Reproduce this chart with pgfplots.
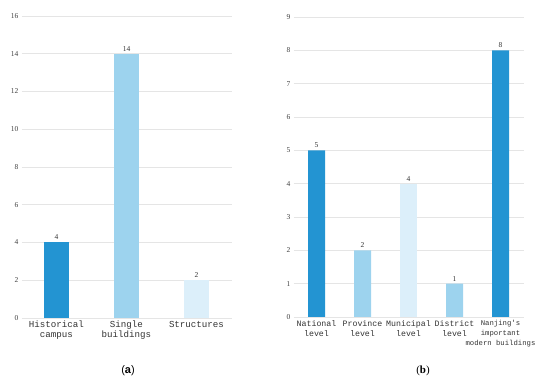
\documentclass[border=0pt]{standalone}
\usepackage{pgfplots}
\pgfplotsset{compat=1.18}
\usepackage{fontspec}
\setmainfont{Liberation Serif}
\setmonofont{Liberation Mono}
\setsansfont{Liberation Sans}
\definecolor{cdark}{RGB}{35,148,210}
\definecolor{cmid}{RGB}{157,211,238}
\definecolor{clight}{RGB}{220,239,250}
\pgfplotsset{
  mybase/.style={
    scale only axis,
    anchor=south west,
    ymin=0,
    axis line style={draw=none},
    major tick length=0pt,
    ymajorgrids,
    grid style={draw=black!10, line width=0.6pt},
    /pgf/number format/assume math mode=true,
    yticklabel style={font=\fontsize{7.5}{8}\selectfont, color=black!75, inner sep=1pt, xshift=-2bp},
    xticklabel style={font=\fontsize{9.2}{10}\selectfont\ttfamily, color=black!80, align=center, inner sep=1pt, yshift=-2bp},
    nodes near coords,
    every node near coord/.append style={font=\fontsize{7.5}{8}\selectfont, color=black!80, yshift=-1bp},
    ybar, bar shift=0pt,
  }
}
\begin{document}
\begin{tikzpicture}
\useasboundingbox (0bp,0bp) rectangle (550bp,381bp);
\begin{axis}[mybase,
  at={(21.5bp,63bp)}, width=210bp, height=302bp,
  xmin=-0.5, xmax=2.5, ymax=16, ytick={0,2,...,16},
  bar width=25bp,
  xtick={0,1,2},
  xticklabels={Historical\\campus, Single\\buildings, Structures},
]
\addplot[fill=cdark, draw=none] coordinates {(0,4)};
\addplot[fill=cmid, draw=none] coordinates {(1,14)};
\addplot[fill=clight, draw=none] coordinates {(2,2)};
\end{axis}
\begin{axis}[mybase,
  at={(293.5bp,64bp)}, width=230bp, height=300bp,
  xmin=-0.5, xmax=4.5, ymax=9, ytick={0,1,...,9},
  bar width=17bp,
  xtick={0,1,2,3,4},
  xticklabels={National\\level, Province\\level, Municipal\\level, District\\level, {\fontsize{7.3}{11}\selectfont Nanjing's\\\fontsize{7.3}{11}\selectfont important\\\fontsize{7.3}{11}\selectfont modern buildings}},
  xticklabel style={font=\fontsize{8.3}{10}\selectfont\ttfamily},
]
\addplot[fill=cdark, draw=none] coordinates {(0,5) (4,8)};
\addplot[fill=cmid, draw=none] coordinates {(1,2) (3,1)};
\addplot[fill=clight, draw=none] coordinates {(2,4)};
\end{axis}
\node[font=\fontsize{11}{13}\selectfont\sffamily] at (128bp,10bp) {(\textbf{a})};
\node[font=\fontsize{11}{13}\selectfont] at (423bp,10bp) {(\textbf{b})};
\end{tikzpicture}
\end{document}
